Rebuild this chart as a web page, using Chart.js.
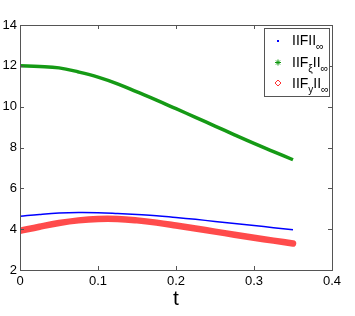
<!DOCTYPE html>
<html>
<head>
<meta charset="utf-8">
<title>norms</title>
<script src="https://cdn.jsdelivr.net/npm/chart.js@4/dist/chart.umd.min.js"></script>
<style>
  body { margin: 0; background: #fff; }
</style>
</head>
<body>
<canvas id="graph" width="355" height="316"></canvas>
<script>
  // values
  var tValues = [0, 0.025, 0.05, 0.075, 0.1, 0.125, 0.15, 0.175, 0.2, 0.225, 0.25, 0.275, 0.3, 0.325, 0.35];
  var normF   = [4.63, 4.72, 4.79, 4.82, 4.81, 4.77, 4.72, 4.66, 4.57, 4.48, 4.38, 4.28, 4.18, 4.07, 3.97];
  var normFxi = [12.0, 11.97, 11.9, 11.7, 11.45, 11.12, 10.72, 10.32, 9.9, 9.48, 9.05, 8.62, 8.2, 7.8, 7.4];
  var normFy  = [3.92, 4.12, 4.3, 4.43, 4.5, 4.5, 4.43, 4.32, 4.18, 4.03, 3.88, 3.73, 3.58, 3.44, 3.3];
  var xTicks = [0, 0.1, 0.2, 0.3, 0.4];
  var yTicks = [2, 4, 6, 8, 10, 12, 14];

  function pts(ys) {
    var out = [];
    for (var i = 0; i < tValues.length; i++) out.push({ x: tValues[i], y: ys[i] });
    return out;
  }

  const FONT = "'Liberation Sans', Arial, sans-serif";
  const FRAME = '#555';

  // box + inward ticks, MATLAB style
  const framePlugin = {
    id: 'frame',
    afterDraw(chart) {
      const ctx = chart.ctx, a = chart.chartArea;
      const xs = chart.scales.x, ys = chart.scales.y;
      ctx.save();
      ctx.strokeStyle = FRAME;
      ctx.lineWidth = 1;
      ctx.strokeRect(a.left + 0.5, a.top + 0.5, a.right - a.left, a.bottom - a.top);
      ctx.beginPath();
      xTicks.forEach(v => {
        const px = Math.round(xs.getPixelForValue(v)) + 0.5;
        ctx.moveTo(px, a.bottom); ctx.lineTo(px, a.bottom - 4);
        ctx.moveTo(px, a.top); ctx.lineTo(px, a.top + 4);
      });
      yTicks.forEach(v => {
        const py = Math.round(ys.getPixelForValue(v)) + 0.5;
        ctx.moveTo(a.left, py); ctx.lineTo(a.left + 4, py);
        ctx.moveTo(a.right, py); ctx.lineTo(a.right - 4, py);
      });
      ctx.stroke();
      ctx.restore();
    }
  };

  function normText(ctx, x, y, sub) {
    ctx.font = '14px ' + FONT;
    ctx.fillText('IIF', x, y);
    x += ctx.measureText('IIF').width;
    if (sub) {
      ctx.font = '10px ' + FONT;
      ctx.fillText(sub, x, y + 5);
      x += ctx.measureText(sub).width;
      ctx.font = '14px ' + FONT;
    }
    ctx.fillText('II', x, y);
    x += ctx.measureText('II').width;
    ctx.font = '11px ' + FONT;
    ctx.fillText('\u221e', x, y + 5);
  }

  const legendPlugin = {
    id: 'boxLegend',
    afterDraw(chart) {
      const ctx = chart.ctx;
      ctx.save();
      ctx.fillStyle = '#fff';
      ctx.fillRect(264.5, 28.5, 65, 68);
      ctx.strokeStyle = FRAME;
      ctx.lineWidth = 1;
      ctx.strokeRect(264.5, 28.5, 65, 68);
      // markers
      ctx.fillStyle = '#0000ff';
      ctx.fillRect(277, 40, 2, 2);
      ctx.strokeStyle = '#119911';
      ctx.lineWidth = 1;
      ctx.beginPath();
      ctx.moveTo(275, 62.5); ctx.lineTo(281, 62.5);
      ctx.moveTo(278, 59.5); ctx.lineTo(278, 65.5);
      ctx.moveTo(276, 60.5); ctx.lineTo(280, 64.5);
      ctx.moveTo(280, 60.5); ctx.lineTo(276, 64.5);
      ctx.stroke();
      ctx.strokeStyle = '#ff3030';
      ctx.beginPath();
      ctx.moveTo(278, 80); ctx.lineTo(281, 83); ctx.lineTo(278, 86); ctx.lineTo(275, 83); ctx.closePath();
      ctx.stroke();
      // labels
      ctx.fillStyle = '#000';
      ctx.textBaseline = 'alphabetic';
      normText(ctx, 292, 45, null);
      normText(ctx, 292, 67, '\u03be');
      normText(ctx, 292, 88, 'y');
      ctx.restore();
    }
  };

  const data = {
    datasets: [{
      label: '||F||',
      data: pts(normF),
      borderColor: '#0000ff',
      borderWidth: 1.5,
      pointRadius: 0,
      tension: 0.4
    }, {
      label: '||F_xi||',
      data: pts(normFxi),
      borderColor: '#159a15',
      borderWidth: 3.5,
      pointRadius: 0,
      tension: 0.4
    }, {
      label: '||F_y||',
      data: pts(normFy),
      borderColor: 'rgba(255,60,60,0.92)',
      borderWidth: 6.5,
      borderCapStyle: 'round',
      pointRadius: 0,
      tension: 0.4
    }]
  };

  const options = {
    responsive: false,
    animation: false,
    layout: { padding: { top: 25, right: 23, left: 0, bottom: 0 } },
    plugins: { legend: { display: false }, tooltip: { enabled: false } },
    scales: {
      x: {
        type: 'linear', min: 0, max: 0.4,
        afterBuildTicks: s => { s.ticks = xTicks.map(v => ({ value: v })); },
        afterFit: s => { s.height = 46; },
        grid: { display: false, drawTicks: false },
        border: { display: false },
        ticks: { color: '#000', font: { family: FONT, size: 13 }, padding: 4, maxRotation: 0,
                 callback: v => String(v) },
        title: { display: true, text: 't', color: '#000', font: { family: FONT, size: 21 }, padding: { top: 2 } }
      },
      y: {
        min: 2, max: 14,
        afterBuildTicks: s => { s.ticks = yTicks.map(v => ({ value: v })); },
        afterFit: s => { s.width = 20; },
        grid: { display: false, drawTicks: false },
        border: { display: false },
        ticks: { color: '#000', font: { family: FONT, size: 13 }, padding: 3 }
      }
    }
  };

  new Chart(document.getElementById('graph'), {
    type: 'line',
    data: data,
    options: options,
    plugins: [framePlugin, legendPlugin]
  });
</script>
</body>
</html>
